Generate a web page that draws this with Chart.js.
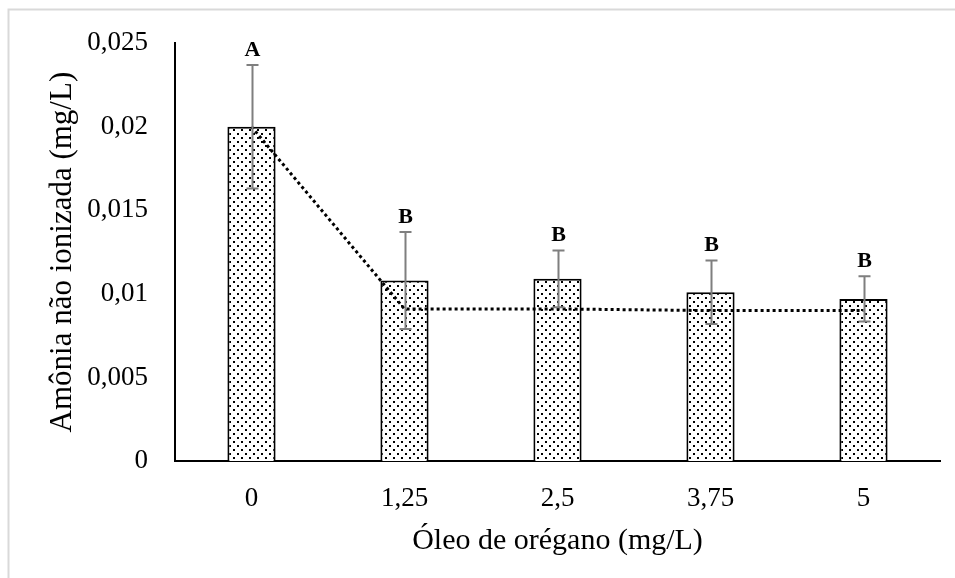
<!DOCTYPE html>
<html>
<head>
<meta charset="utf-8">
<script src="https://cdn.jsdelivr.net/npm/chart.js@4/dist/chart.umd.min.js"></script>
<style>
  html, body { margin: 0; padding: 0; background: #fff; }
  #wrap { width: 955px; height: 578px; }
</style>
</head>
<body>
<div id="wrap"><canvas id="chart-section" width="955" height="578"></canvas></div>
<script>
// oregano oil dose (mg/L) and un-ionized ammonia (mg/L)
const doses = ['0', '1,25', '2,5', '3,75', '5'];
const ammonia = [0.0200, 0.0108, 0.0109, 0.0101, 0.0097];
const ammoniaErr = [0.0037, 0.0029, 0.0017, 0.0019, 0.00135];
const groupLetters = ['A', 'B', 'B', 'B', 'B'];
const trend = [0.0200, 0.0091, 0.0091, 0.0090, 0.0090];
const yTickLabels = ['0', '0,005', '0,01', '0,015', '0,02', '0,025'];

const serif = "'Liberation Serif', 'Times New Roman', serif";

// dotted fill like the office "5%" pattern
const makeDots = () => {
  const c = document.createElement('canvas');
  c.width = 8; c.height = 8;
  const g = c.getContext('2d');
  g.fillStyle = '#fff';
  g.fillRect(0, 0, 8, 8);
  g.fillStyle = '#000';
  g.fillRect(1, 1, 2, 2);
  g.fillRect(5, 5, 2, 2);
  return g.createPattern(c, 'repeat');
};

const frame = {
  id: 'frame',
  beforeDraw(chart) {
    const {ctx} = chart;
    ctx.save();
    ctx.fillStyle = '#fff';
    ctx.fillRect(0, 0, chart.width, chart.height);
    ctx.strokeStyle = '#d9d9d9';
    ctx.lineWidth = 2;
    ctx.beginPath();
    ctx.moveTo(8.5, chart.height);
    ctx.lineTo(8.5, 9.5);
    ctx.lineTo(chart.width, 9.5);
    ctx.stroke();
    ctx.restore();
  }
};

const errorBars = {
  id: 'errorBars',
  afterDatasetsDraw(chart) {
    const {ctx} = chart;
    const y = chart.scales.y;
    const meta = chart.getDatasetMeta(0);
    ctx.save();
    meta.data.forEach((bar, i) => {
      const x = Math.round(bar.x) + 0.5;
      const hi = y.getPixelForValue(ammonia[i] + ammoniaErr[i]);
      const lo = y.getPixelForValue(ammonia[i] - ammoniaErr[i]);
      ctx.strokeStyle = '#7f7f7f';
      ctx.lineWidth = 2;
      ctx.beginPath();
      ctx.moveTo(x, hi); ctx.lineTo(x, lo);
      ctx.moveTo(x - 6, hi); ctx.lineTo(x + 6, hi);
      ctx.moveTo(x - 6, lo); ctx.lineTo(x + 6, lo);
      ctx.stroke();
      ctx.fillStyle = '#000';
      ctx.font = 'bold 22px ' + serif;
      ctx.textAlign = 'center';
      ctx.textBaseline = 'alphabetic';
      ctx.fillText(groupLetters[i], x, hi - 9);
    });
    ctx.restore();
  }
};

const ctx = document.getElementById('chart-section');
new Chart(ctx, {
  data: {
    labels: doses,
    datasets: [
      {
        type: 'bar',
        data: ammonia,
        backgroundColor: makeDots(),
        borderColor: '#000',
        borderWidth: 2,
        barPercentage: 0.315,
        categoryPercentage: 1,
        order: 2
      },
      {
        type: 'line',
        data: trend,
        borderColor: '#000',
        borderWidth: 3,
        borderDash: [3, 3],
        pointRadius: 0,
        fill: false,
        tension: 0,
        order: 1
      }
    ]
  },
  options: {
    responsive: false,
    animation: false,
    layout: { padding: { top: 40, right: 15, left: 0, bottom: 0 } },
    scales: {
      y: {
        min: 0,
        max: 0.025,
        afterFit: s => { s.width = 175; },
        afterBuildTicks: s => {
          s.ticks = yTickLabels.map((_, i) => ({ value: i * 0.005 }));
        },
        ticks: {
          callback: (v, i) => yTickLabels[i],
          color: '#000',
          padding: 27,
          font: { family: serif, size: 27 }
        },
        grid: { display: false, drawTicks: false },
        border: { display: true, color: '#000', width: 2 },
        title: {
          display: true,
          text: 'Amônia não ionizada (mg/L)',
          color: '#000',
          font: { family: serif, size: 31 },
          padding: { top: 44, bottom: 0 }
        }
      },
      x: {
        afterFit: s => { s.height = 117; },
        ticks: {
          color: '#000',
          padding: 22,
          font: { family: serif, size: 27 }
        },
        grid: { display: false, drawTicks: false },
        border: { display: true, color: '#000', width: 2 },
        title: {
          display: true,
          text: 'Óleo de orégano (mg/L)',
          color: '#000',
          font: { family: serif, size: 30 },
          padding: { top: 0, bottom: 19 }
        }
      }
    },
    plugins: {
      legend: { display: false },
      tooltip: { enabled: false }
    }
  },
  plugins: [frame, errorBars]
});
</script>
</body>
</html>
